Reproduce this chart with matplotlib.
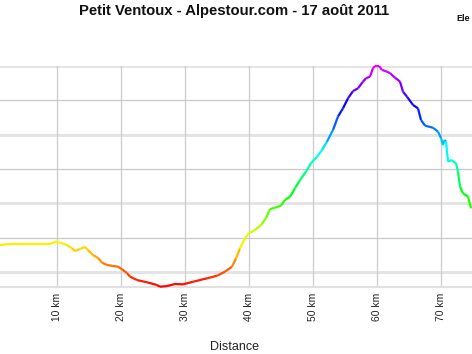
"""
Elevation profile of the Petit Ventoux ride, line coloured by altitude.
"""
import numpy as np
import matplotlib
matplotlib.use("Agg")
import matplotlib.pyplot as plt
from matplotlib.collections import LineCollection
from matplotlib.colors import LinearSegmentedColormap, Normalize

plt.rcParams["font.family"] = ["Liberation Sans", "DejaVu Sans"]

TITLE = "Petit Ventoux - Alpestour.com - 17 août 2011"

# distance (km) and elevation (m)
dist_km = [1.14, 2.70, 5.83, 8.95, 9.89, 10.83, 11.61, 12.39, 12.86, 13.64,
           14.42, 14.89, 15.67, 16.45, 17.08, 17.86, 18.80, 19.58, 20.20, 20.98,
           21.45, 22.55, 24.11, 25.67, 26.14, 27.23, 28.48, 29.73, 31.30, 33.48,
           35.05, 36.30, 37.39, 38.02, 38.64, 39.42, 40.05, 40.98, 41.92, 42.70,
           43.33, 44.11, 45.05, 45.67, 46.45, 47.23, 48.02, 48.95, 49.73, 50.67,
           51.45, 52.23, 53.17, 53.95, 54.73, 55.52, 56.30, 57.08, 57.86, 58.33,
           58.95, 59.42, 59.73, 60.36, 60.83, 61.61, 62.08, 62.86, 63.64, 64.11,
           64.73, 65.67, 66.45, 66.92, 67.55, 68.80, 69.58, 70.05, 70.36, 70.59,
           70.83, 71.14, 71.61, 72.39, 72.70, 73.02, 73.48, 74.27, 74.73]
elev_m = [357, 363, 363, 363, 377, 367, 357, 338, 322, 334,
          346, 328, 299, 282, 254, 241, 235, 231, 216, 194,
          173, 153, 140, 124, 114, 118, 130, 128, 143, 163,
          178, 202, 231, 280, 338, 396, 426, 445, 474, 513,
          566, 575, 587, 620, 639, 688, 736, 785, 834, 872,
          911, 960, 1028, 1106, 1154, 1213, 1255, 1271, 1310, 1330,
          1339, 1388, 1401, 1401, 1378, 1368, 1359, 1333, 1310, 1251,
          1222, 1174, 1154, 1086, 1053, 1041, 1018, 980, 940, 970,
          960, 843, 853, 834, 785, 697, 659, 639, 571]

x_ticks = [10, 20, 30, 40, 50, 60, 70]
y_major = [200, 600, 1000, 1400]
y_minor = [400, 800, 1200]

fig = plt.figure(figsize=(4.72, 3.54), dpi=100)
# the plot area runs past both edges of the picture
ax = fig.add_axes([-20 / 472, (354 - 287) / 354, 510 / 472, (287 - 66) / 354])
ax.set_xlim(-1.98, 77.7)
ax.set_ylim(112.5, 1401)

for v in y_major:
    ax.axhline(v, color="#e4e4e4", lw=2.2, zorder=1)
for v in y_minor:
    ax.axhline(v, color="#c8c8c8", lw=0.9, zorder=1)
for v in x_ticks:
    ax.axvline(v, color="#cccccc", lw=0.9, zorder=1)

# rainbow from red (low) to magenta (high)
cmap = LinearSegmentedColormap.from_list(
    "alt", plt.cm.hsv(np.linspace(0, 0.83, 64)))
pts = np.column_stack([dist_km, elev_m])
segs = np.stack([pts[:-1], pts[1:]], axis=1)
mid = (np.array(elev_m[:-1]) + np.array(elev_m[1:])) / 2
lc = LineCollection(segs, cmap=cmap, norm=Normalize(min(elev_m), max(elev_m)),
                    linewidths=1.6, zorder=3, clip_on=False)
lc.set_array(mid)
ax.add_collection(lc)

for s in ["left", "right", "top"]:
    ax.spines[s].set_visible(False)
ax.spines["bottom"].set_color("#e0e0e0")
ax.spines["bottom"].set_linewidth(1.5)

ax.set_xticks(x_ticks)
ax.set_xticklabels([f"{v} km" for v in x_ticks], rotation=90, fontsize=7.4,
                   color="#222222")
ax.tick_params(axis="x", length=0, pad=4)
ax.set_yticks([])

fig.text(234.5 / 472, 1 - 347 / 354, "Distance", ha="center", va="center",
         fontsize=9, color="#222222")
fig.text(234 / 472, 1 - 11 / 354, TITLE, ha="center", va="center",
         fontsize=10.7, fontweight="bold", color="#111111")
fig.text(456.5 / 472, 1 - 18.5 / 354, "Ele", ha="left", va="center",
         fontsize=6.5, fontweight="bold", color="#111111")

fig.savefig("out.png", dpi=100)
plt.close(fig)
